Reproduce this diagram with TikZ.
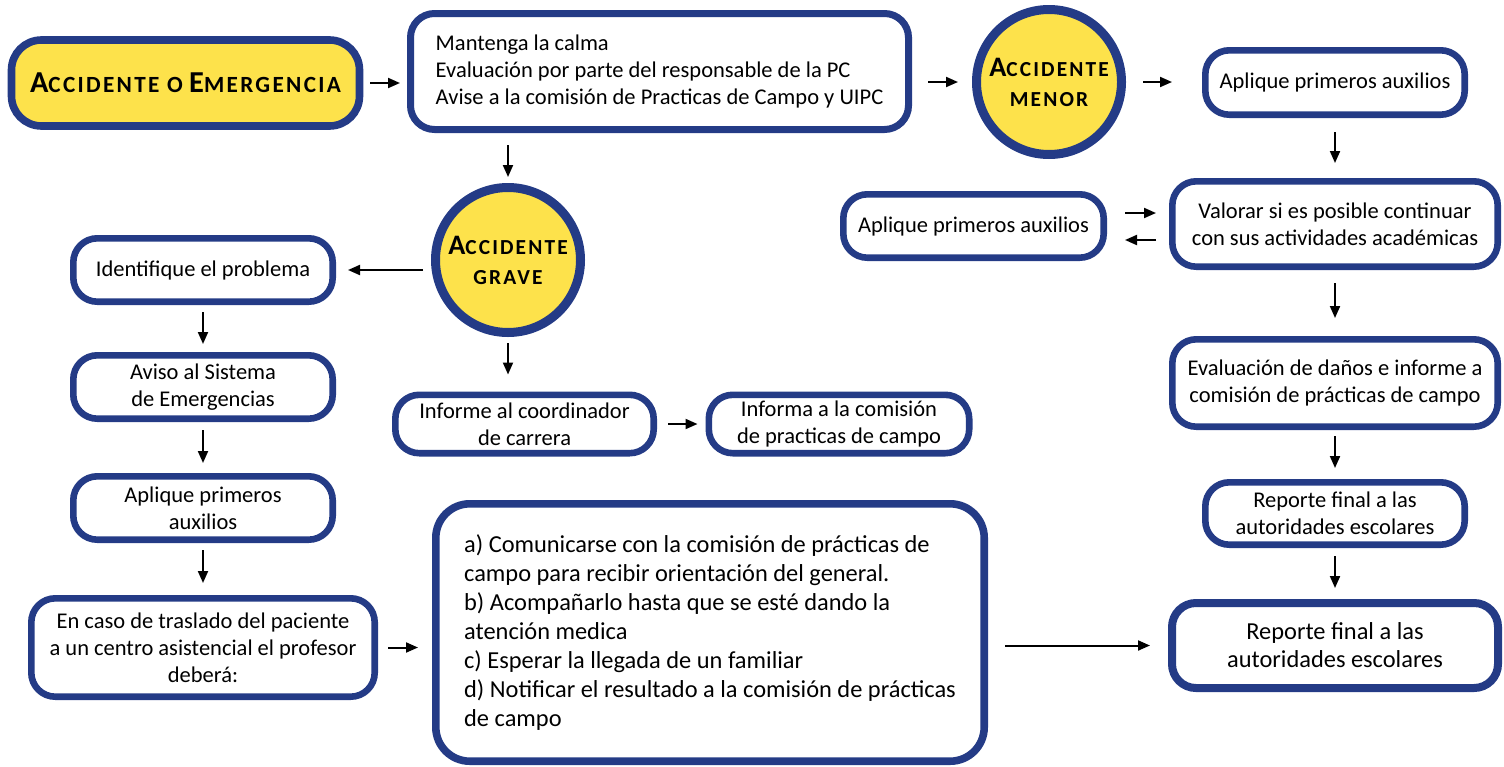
\documentclass[tikz,border=0pt]{standalone}
\usepackage{fontspec}
\setmainfont{Carlito}
\newfontfamily\headfont[LetterSpace=10]{Carlito}
\usepackage{tikz}
\usetikzlibrary{positioning,arrows.meta}
\usepackage{xcolor}
\definecolor{navy}{HTML}{243B86}
\definecolor{sun}{HTML}{FDE24B}
\newcommand{\capbig}{14.1}
\newcommand{\capsmall}{10.7}
\newcommand{\capsword}[2]{{\fontsize{\capbig}{15}\selectfont #1}{\fontsize{\capsmall}{15}\selectfont #2}}
\tikzset{
  stepbox/.style={draw=navy, line width=3.3pt, rounded corners=12pt, fill=white, align=center, inner sep=2pt, font=\fontsize{11.25}{13.5}\selectfont},
  alarm/.style={circle, draw=navy, line width=4.5pt, fill=sun, align=center, minimum size=72.5pt, inner sep=0pt, font=\headfont\bfseries\fontsize{10.7}{15}\selectfont},
  flow/.style={-{Triangle[length=6pt,width=5pt]}, line width=1pt},
}

\begin{document}
\begin{tikzpicture}[x=0.5pt, y=-0.5pt]
	\useasboundingbox (0,0) rectangle (1504,766);
	% Define nodes
	\node[stepbox, fill=sun, line width=3.8pt, rounded corners=15pt, minimum width=174pt, minimum height=43pt, font=\headfont\bfseries\def\capbig{15.2}\def\capsmall{11.6}] (accident) at (185.5,83) {\capsword{A}{CCIDENTE O} \capsword{E}{MERGENCIA}};
	\node[stepbox, align=left, line width=3.5pt, minimum width=249pt, minimum height=58pt] (calm) at (659.5,71.5) {Mantenga la calma\\Evaluación por parte del responsable de la PC\\Avise a la comisión de Practicas de Campo y UIPC};
	\node[alarm] (minor) at (1049,82) {\capsword{A}{CCIDENTE}\\MENOR};
	\node[alarm] (grave) at (508,260) {\capsword{A}{CCIDENTE}\\GRAVE};
	% right branch
	\node[stepbox, minimum width=129.7pt, minimum height=32.2pt] (aidR) at (1335,82.5) {Aplique primeros auxilios};
	\node[stepbox, below=30pt of aidR, minimum width=162.7pt, minimum height=42.7pt] (assess) {Valorar si es posible continuar\\con sus actividades académicas};
	\node[stepbox, minimum width=130.2pt, minimum height=31.7pt] (aidM) at (973.5,226) {Aplique primeros auxilios};
	\node[stepbox, below=33pt of assess, minimum width=162.7pt, minimum height=43.7pt] (damage) {Evaluación de daños e informe a\\comisión de prácticas de campo};
	\node[stepbox, below=24.5pt of damage, minimum width=129.7pt, minimum height=31.2pt] (reportA) {Reporte final a las\\autoridades escolares};
	\node[stepbox, below=25.5pt of reportA, line width=4pt, minimum width=163pt, minimum height=42.5pt, font=\fontsize{12.2}{14}\selectfont] (reportB) {Reporte final a las\\autoridades escolares};
	% left branch
	\node[stepbox, minimum width=129.7pt, minimum height=31.7pt] (ident) at (203,270) {Identifique el problema};
	\node[stepbox, below=23.5pt of ident, minimum width=129.7pt, minimum height=31.7pt] (alert) {Aviso al Sistema\\de Emergencias};
	\node[stepbox, below=25.5pt of alert, minimum width=129.7pt, minimum height=31.7pt] (aidL) {Aplique primeros\\auxilios};
	\node[stepbox, below=26pt of aidL, minimum width=171.7pt, minimum height=49.2pt] (transfer) {En caso de traslado del paciente\\a un centro asistencial el profesor\\deberá:};
	\node[stepbox, minimum width=129.2pt, minimum height=29.2pt] (coord) at (524.5,424) {Informe al coordinador\\de carrera};
	\node[stepbox, minimum width=130.2pt, minimum height=29.2pt] (commis) at (839,424) {Informa a la comisión\\de practicas de campo};
	\node[stepbox, align=left, line width=3.8pt, rounded corners=17pt, minimum width=274.2pt, minimum height=128.7pt, font=\fontsize{12.2}{14.5}\selectfont] (tasks) at (710,632.5) {a) Comunicarse con la comisión de prácticas de\\campo para recibir orientación del general.\\b) Acompañarlo hasta que se esté dando la\\atención medica\\c) Esperar la llegada de un familiar\\d) Notificar el resultado a la comisión de prácticas\\de campo};
	% Connect the nodes
	\draw[flow, shorten <=3.5pt, shorten >=3.5pt] (accident.east) -- (accident.east -| calm.west);
	\draw[flow, shorten <=8pt, shorten >=7pt] (calm.east |- minor.west) -- (minor.west);
	\draw[flow, shorten <=8.5pt, shorten >=15pt] (minor.east) -- (minor.east -| aidR.west);
	\draw[flow, shorten <=7pt, shorten >=7.5pt] (aidR.south) -- (assess.north);
	\draw[flow, shorten <=9pt, shorten >=6.5pt] ([yshift=6.5pt]aidM.east) -- ([yshift=6.5pt]aidM.east -| assess.west);
	\draw[flow, shorten <=6.5pt, shorten >=9pt] ([yshift=-8pt]assess.west) -- ([yshift=-8pt]assess.west -| aidM.east);
	\draw[flow, shorten <=6.5pt, shorten >=9pt] (assess.south) -- (damage.north);
	\draw[flow, shorten <=3pt, shorten >=5.5pt] (damage.south) -- (reportA.north);
	\draw[flow, shorten <=4pt, shorten >=5.5pt] (reportA.south) -- (reportB.north);
	\draw[flow, shorten <=6pt, shorten >=3pt] (calm.south -| grave.north) -- (grave.north);
	\draw[flow, shorten <=3pt, shorten >=8.5pt] (grave.south) -- (grave.south |- coord.north);
	\draw[flow, shorten <=4pt, shorten >=6pt] (ident.east -| grave.west) -- (ident.east);
	\draw[flow, shorten <=3.5pt, shorten >=4pt] (ident.south) -- (alert.north);
	\draw[flow, shorten <=4pt, shorten >=5pt] (alert.south) -- (aidL.north);
	\draw[flow, shorten <=3.5pt, shorten >=6pt] (aidL.south) -- (transfer.north);
	\draw[flow, shorten <=5.5pt, shorten >=4pt] (coord.east) -- (coord.east -| commis.west);
	\draw[flow, shorten <=5pt, shorten >=7pt] (transfer.east) -- (transfer.east -| tasks.west);
	\draw[flow, shorten <=8.5pt, shorten >=9pt] (tasks.east |- reportB.west) -- (reportB.west);
\end{tikzpicture}
\end{document}
